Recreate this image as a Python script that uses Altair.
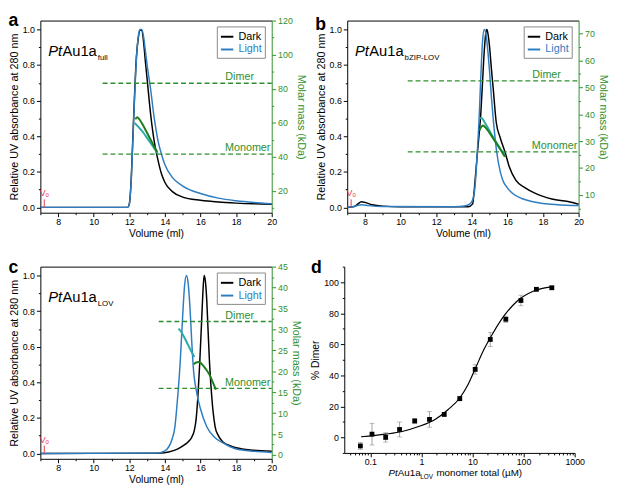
import altair as alt
import pandas as pd

FONT = "Liberation Sans"
BLUE = "#2f7dc1"
GREEN = "#2f8f2f"
DARKGREEN = "#1b7d1b"
TEAL = "#2aaaa8"
RED = "#e8384f"

# ---------------- data ----------------
A_DARK_VOL = [7.0, 11.9, 12.0, 12.1, 12.2, 12.3, 12.4, 12.5, 12.6, 12.7, 12.8, 12.9, 13.0, 13.2, 13.4, 13.6, 13.8, 14.0, 14.4, 15.0, 16.0, 17.0, 18.0, 19.0, 20.0]
A_DARK_ABS = [0.0, 0.0, 0.02, 0.15, 0.40, 0.65, 0.85, 0.95, 0.995, 0.995, 0.93, 0.82, 0.72, 0.52, 0.37, 0.27, 0.19, 0.14, 0.09, 0.058, 0.04, 0.03, 0.024, 0.02, 0.018]
A_LIGHT_VOL = [7.0, 11.9, 12.0, 12.1, 12.2, 12.3, 12.4, 12.5, 12.6, 12.7, 12.8, 12.9, 13.0, 13.2, 13.4, 13.6, 13.8, 14.0, 14.4, 15.0, 16.0, 17.0, 18.0, 19.0, 20.0]
A_LIGHT_ABS = [0.0, 0.0, 0.02, 0.14, 0.38, 0.63, 0.84, 0.96, 1.0, 1.0, 0.96, 0.88, 0.80, 0.66, 0.50, 0.38, 0.30, 0.24, 0.17, 0.12, 0.078, 0.052, 0.037, 0.027, 0.02]
A_MASS_DARK_VOL = [12.33, 12.44, 12.6, 12.8, 13.0, 13.2, 13.4, 13.57]
A_MASS_DARK = [62.0, 63.3, 61.5, 58.0, 54.0, 50.0, 46.0, 42.8]
A_MASS_LIGHT_VOL = [12.3, 12.4, 12.6, 12.8, 13.0, 13.2, 13.4, 13.6]
A_MASS_LIGHT = [60.0, 58.8, 56.5, 54.0, 51.0, 48.0, 45.0, 41.8]
A_DIMER, A_MONOMER = 83.2, 41.6

B_DARK_VOL = [7.0, 7.4, 7.6, 7.8, 8.0, 8.4, 9.0, 10.0, 13.8, 14.05, 14.1, 14.2, 14.3, 14.4, 14.5, 14.6, 14.7, 14.8, 14.85, 14.9, 15.0, 15.1, 15.2, 15.37, 15.6, 15.86, 16.1, 16.47, 17.0, 17.57, 18.0, 18.5, 19.4, 20.0]
B_DARK_ABS = [0.0, 0.005, 0.02, 0.032, 0.028, 0.015, 0.007, 0.004, 0.004, 0.02, 0.06, 0.17, 0.29, 0.40, 0.52, 0.70, 0.88, 0.99, 1.0, 0.98, 0.90, 0.78, 0.67, 0.48, 0.39, 0.313, 0.23, 0.153, 0.11, 0.079, 0.062, 0.047, 0.033, 0.018]
B_LIGHT_VOL = [7.0, 7.5, 7.8, 8.2, 9.0, 13.0, 13.6, 13.9, 14.1, 14.2, 14.3, 14.41, 14.5, 14.6, 14.7, 14.8, 14.9, 15.0, 15.1, 15.2, 15.4, 15.6, 15.74, 16.0, 16.28, 16.8, 17.38, 18.0, 18.8, 20.0]
B_LIGHT_ABS = [0.0, 0.008, 0.015, 0.01, 0.005, 0.004, 0.008, 0.02, 0.06, 0.14, 0.30, 0.50, 0.72, 0.93, 1.0, 0.97, 0.88, 0.76, 0.62, 0.50, 0.31, 0.20, 0.153, 0.11, 0.079, 0.05, 0.033, 0.022, 0.015, 0.01]
B_MASS_DARK_VOL = [14.42, 14.5, 14.63, 14.8, 15.0, 15.2, 15.4, 15.6, 15.86]
B_MASS_DARK = [33.9, 35.0, 35.8, 34.8, 33.0, 31.0, 29.0, 27.0, 24.2]
B_MASS_LIGHT_VOL = [14.45, 14.55, 14.7, 14.9, 15.1, 15.3, 15.5, 15.7, 15.86]
B_MASS_LIGHT = [38.5, 38.6, 37.2, 35.0, 32.6, 30.3, 28.2, 26.2, 24.5]
B_DIMER, B_MONOMER = 52.4, 26.0

C_DARK_VOL = [7.0, 13.8, 14.2, 14.7, 15.05, 15.3, 15.5, 15.65, 15.76, 15.85, 15.95, 16.05, 16.13, 16.2, 16.27, 16.35, 16.42, 16.5, 16.6, 16.7, 16.82, 17.0, 17.26, 17.7, 18.0, 19.0, 20.0]
C_DARK_ABS = [0.0, 0.002, 0.008, 0.024, 0.045, 0.065, 0.09, 0.13, 0.20, 0.32, 0.50, 0.72, 0.90, 1.0, 0.97, 0.86, 0.70, 0.52, 0.36, 0.24, 0.15, 0.10, 0.065, 0.042, 0.032, 0.018, 0.012]
C_LIGHT_VOL = [7.0, 13.5, 13.97, 14.2, 14.4, 14.56, 14.7, 14.85, 15.0, 15.1, 15.21, 15.3, 15.4, 15.5, 15.58, 15.8, 16.0, 16.35, 16.8, 17.26, 18.0, 19.0, 20.0]
C_LIGHT_ABS = [0.0, 0.002, 0.013, 0.035, 0.08, 0.15, 0.30, 0.50, 0.78, 0.94, 1.0, 0.96, 0.83, 0.64, 0.50, 0.334, 0.25, 0.15, 0.09, 0.059, 0.025, 0.012, 0.006]
C_MASS_DARK_VOL = [15.62, 15.75, 15.9, 16.1, 16.3, 16.5, 16.7, 16.86]
C_MASS_DARK = [21.7, 22.1, 22.2, 21.6, 20.5, 19.2, 17.3, 15.6]
C_MASS_LIGHT_VOL = [14.76, 14.9, 15.1, 15.3, 15.5, 15.65]
C_MASS_LIGHT = [30.2, 29.5, 28.0, 26.3, 24.6, 23.4]
C_DIMER, C_MONOMER = 31.9, 15.9

VO_VOL = 7.22

D_CONC = [0.064, 0.108, 0.2, 0.374, 0.74, 1.44, 2.8, 5.64, 11.3, 22.3, 44.9, 88.7, 178, 357]
D_DIMER = [-5.5, 2.1, 0.0, 5.1, 10.6, 11.6, 14.8, 25.0, 43.8, 63.1, 76.1, 88.2, 95.4, 96.4]
D_ERR = [2.2, 7.0, 3.0, 4.8, 1.5, 5.0, 1.0, 1.5, 3.0, 4.5, 2.0, 3.4, 1.0, 1.0]
D_FIT_CONC = [0.066, 0.2, 0.42, 0.88, 1.85, 3.35, 5.64, 8.15, 11.8, 17.1, 24.8, 41.7, 75.4, 158, 357]
D_FIT_Y = [0.4, 2.1, 3.8, 7.0, 11.6, 18.0, 25.4, 33.9, 45.6, 57.2, 66.8, 78.4, 87.9, 94.3, 97.0]

# ---------------- helpers ----------------
W, H = 236, 196
VOL_DOMAIN = [7, 20]
ABS_DOMAIN = [-0.03, 1.05]
VOL_TICKS = list(range(7, 21))
ABS_TICKS = [round(i * 0.1, 1) for i in range(11)]


def x_vol(field="vol", top=False):
    if top:
        axis = alt.Axis(orient="top", labels=False, ticks=False, title=None,
                        domainColor="black")
    else:
        axis = alt.Axis(title="Volume (ml)", values=VOL_TICKS, labelFlush=False,
                        labelOverlap=False,
                        labelExpr="datum.value % 2 == 0 ? datum.label : ''",
                        tickSize={"condition": {"test": "datum.value % 2 == 0", "value": 4}, "value": 2},
                        labelPadding=1, titlePadding=2, titleFontSize=10.5)
    return alt.X(f"{field}:Q", scale=alt.Scale(domain=VOL_DOMAIN, nice=False, zero=False), axis=axis)


def y_abs(field):
    return alt.Y(f"{field}:Q", scale=alt.Scale(domain=ABS_DOMAIN, nice=False, zero=False),
                 axis=alt.Axis(title="Relative UV absorbance at 280 nm", values=ABS_TICKS,
                               format=".1f", labelOverlap=False, labelFlush=False,
                               labelExpr="round(datum.value * 10) % 2 == 0 ? datum.label : ''",
                               tickSize={"condition": {"test": "round(datum.value * 10) % 2 == 0", "value": 4}, "value": 2},
                               labelPadding=2, titlePadding=3))


def y_mass(field, domain, ticks, major):
    return alt.Y(f"{field}:Q", scale=alt.Scale(domain=domain, nice=False, zero=False),
                 axis=alt.Axis(title="Molar mass (kDa)", orient="right", values=ticks,
                               labelOverlap=False, labelFlush=False,
                               labelExpr=f"datum.value % {major} == 0 ? datum.label : ''",
                               tickSize={"condition": {"test": f"datum.value % {major} == 0", "value": 4}, "value": 2},
                               domainColor=GREEN, tickColor=GREEN, labelColor=GREEN,
                               titleColor=GREEN, labelPadding=2, titlePadding=3))


def name_marks(sub, xs, y):
    one = pd.DataFrame({"k": [0]})
    base = alt.Chart(one)
    return [
        base.mark_text(text="Pt", fontStyle="italic", fontSize=15, align="left",
                       baseline="alphabetic").encode(x=alt.value(xs[0]), y=alt.value(y)),
        base.mark_text(text="Au1a", fontSize=15, align="left",
                       baseline="alphabetic").encode(x=alt.value(xs[1]), y=alt.value(y)),
        base.mark_text(text=sub, fontSize=8, align="left",
                       baseline="alphabetic").encode(x=alt.value(xs[2]), y=alt.value(y + 4)),
    ]


def letter(t):
    return alt.TitleParams(t, anchor="start", frame="bounds", fontSize=18, fontWeight="bold",
                           offset=-14, color="black")


def sec_panel(let, sub, dv, da, lv, la, mdv, md, mlv, ml, dimer, monomer, dash_start,
              mass_domain, mass_ticks, major):
    abs_df = pd.concat([
        pd.DataFrame({"vol": dv, "abs": da, "series": "Dark"}),
        pd.DataFrame({"vol": lv, "abs": la, "series": "Light"}),
    ])
    color = alt.Color("series:N", scale=alt.Scale(domain=["Dark", "Light"], range=["black", BLUE]),
                      legend=alt.Legend(title=None, orient="none", legendX=180, legendY=6,
                                        direction="vertical", symbolType="stroke", symbolSize=160,
                                        symbolStrokeWidth=2, labelFontSize=11, padding=3,
                                        strokeColor="#888", fillColor="white", rowPadding=0,
                                        labelOffset=4, cornerRadius=0,
                                        labelColor={"expr": f"datum.label === 'Light' ? '{BLUE}' : 'black'"}))
    lines = alt.Chart(abs_df).mark_line(strokeWidth=1.5, interpolate="monotone").encode(
        x=x_vol(), y=y_abs("abs"), color=color)
    vo_df = pd.DataFrame({"vol": [VO_VOL], "y0": [0.0], "y1": [0.045]})
    vo_rule = alt.Chart(vo_df).mark_rule(color=RED, strokeWidth=1).encode(
        x=x_vol(), y=y_abs("y0"), y2=alt.Y2("y1:Q"))
    vo_text = alt.Chart(vo_df).mark_text(text="Vₒ", color=RED, fontSize=9, baseline="bottom",
                                         dy=-1, align="center").encode(x=x_vol(), y=y_abs("y1"))
    left = alt.layer(lines, vo_rule, vo_text, *name_marks(sub, [8, 22.5, 58.5], 36))

    mdf = pd.DataFrame({"vol": mdv, "mass": md})
    mlf = pd.DataFrame({"vol": mlv, "mass": ml})
    mass_d = alt.Chart(mdf).mark_line(color=DARKGREEN, strokeWidth=2, interpolate="monotone").encode(
        x=x_vol(top=True), y=y_mass("mass", mass_domain, mass_ticks, major))
    mass_l = alt.Chart(mlf).mark_line(color=TEAL, strokeWidth=2, interpolate="monotone").encode(
        x=x_vol(top=True), y=y_mass("mass", mass_domain, mass_ticks, major))
    ref_df = pd.DataFrame({"x0": [dash_start, dash_start], "x1": [20, 20],
                           "mass": [dimer, monomer], "label": ["Dimer", "Monomer"],
                           "lx": [18.2, 18.65]})
    dashes = alt.Chart(ref_df).mark_rule(color=GREEN, strokeDash=[5, 3], strokeWidth=1.3).encode(
        x=x_vol("x0", top=True), x2=alt.X2("x1:Q"), y=y_mass("mass", mass_domain, mass_ticks, major))
    labels = alt.Chart(ref_df).mark_text(color=GREEN, fontSize=11, baseline="bottom", dy=-1).encode(
        x=x_vol("lx", top=True), y=y_mass("mass", mass_domain, mass_ticks, major), text="label:N")
    right = alt.layer(dashes, labels, mass_l, mass_d)

    return alt.layer(left, right).resolve_scale(y="independent").resolve_axis(x="independent").properties(
        width=W, height=H, title=letter(let))


pa = sec_panel("a", "full", A_DARK_VOL, A_DARK_ABS, A_LIGHT_VOL, A_LIGHT_ABS,
               A_MASS_DARK_VOL, A_MASS_DARK, A_MASS_LIGHT_VOL, A_MASS_LIGHT,
               A_DIMER, A_MONOMER, 10.5, [7.2, 120], list(range(10, 121, 10)), 20)
pb = sec_panel("b", "bZIP-LOV", B_DARK_VOL, B_DARK_ABS, B_LIGHT_VOL, B_LIGHT_ABS,
               B_MASS_DARK_VOL, B_MASS_DARK, B_MASS_LIGHT_VOL, B_MASS_LIGHT,
               B_DIMER, B_MONOMER, 10.4, [3.4, 74.8], list(range(5, 71, 5)), 10)
pc = sec_panel("c", "LOV", C_DARK_VOL, C_DARK_ABS, C_LIGHT_VOL, C_LIGHT_ABS,
               C_MASS_DARK_VOL, C_MASS_DARK, C_MASS_LIGHT_VOL, C_MASS_LIGHT,
               C_DIMER, C_MONOMER, 13.65, [-0.9, 45], [round(i * 2.5, 1) for i in range(19)], 5)

# ---------------- panel d ----------------
WD, HD = 235, 190
LOG_TICKS = [round(k * 10 ** e, 6) for e in range(-2, 3) for k in range(1, 10) if 0.031 <= k * 10 ** e <= 1000] + [1000]
D_MAJOR = [0.1, 1, 10, 100, 1000]
d_df = pd.DataFrame({"conc": D_CONC, "dimer": D_DIMER,
                     "lo": [v - e for v, e in zip(D_DIMER, D_ERR)],
                     "hi": [v + e for v, e in zip(D_DIMER, D_ERR)]})
fit_df = pd.DataFrame({"conc": D_FIT_CONC, "dimer": D_FIT_Y})


def x_conc():
    return alt.X("conc:Q", scale=alt.Scale(type="log", domain=[0.031, 1000], nice=False),
                 axis=alt.Axis(title=None, values=LOG_TICKS, format="~g", labelFlush=False,
                               labelOverlap=False,
                               labelExpr=f"indexof({D_MAJOR}, datum.value) >= 0 ? datum.label : ''",
                               tickSize={"condition": {"test": f"indexof({D_MAJOR}, datum.value) >= 0", "value": 4}, "value": 2},
                               labelPadding=1))


def y_dimer(field):
    return alt.Y(f"{field}:Q", scale=alt.Scale(domain=[-10, 110], nice=False, zero=False),
                 axis=alt.Axis(title="% Dimer", values=list(range(-10, 111, 10)), labelFlush=False,
                               labelOverlap=False,
                               labelExpr="datum.value % 20 == 0 && datum.value >= 0 && datum.value <= 100 ? datum.label : ''",
                               tickSize={"condition": {"test": "datum.value % 20 == 0", "value": 4}, "value": 2},
                               labelPadding=2, titlePadding=3, titleFontSize=10.5))


err_rule = alt.Chart(d_df).mark_rule(color="#888", strokeWidth=0.8).encode(
    x=x_conc(), y=y_dimer("lo"), y2=alt.Y2("hi:Q"))
err_lo = alt.Chart(d_df).mark_tick(color="#888", orient="horizontal", size=5, thickness=0.8).encode(
    x=x_conc(), y=y_dimer("lo"))
err_hi = alt.Chart(d_df).mark_tick(color="#888", orient="horizontal", size=5, thickness=0.8).encode(
    x=x_conc(), y=y_dimer("hi"))
fit = alt.Chart(fit_df).mark_line(color="black", strokeWidth=1.2, interpolate="monotone").encode(
    x=x_conc(), y=y_dimer("dimer"))
pts = alt.Chart(d_df).mark_square(color="black", size=24, opacity=1).encode(
    x=x_conc(), y=y_dimer("dimer"))

one = pd.DataFrame({"k": [0]})
ty = HD + 24
d_title = [
    alt.Chart(one).mark_text(text="Pt", fontStyle="italic", fontSize=10, align="left", baseline="alphabetic").encode(x=alt.value(45), y=alt.value(ty)),
    alt.Chart(one).mark_text(text="Au1a", fontSize=10, align="left", baseline="alphabetic").encode(x=alt.value(54.5), y=alt.value(ty)),
    alt.Chart(one).mark_text(text="LOV", fontSize=6.5, align="left", baseline="alphabetic").encode(x=alt.value(77.5), y=alt.value(ty + 3)),
    alt.Chart(one).mark_text(text="monomer total (µM)", fontSize=10, align="left", baseline="alphabetic").encode(x=alt.value(94), y=alt.value(ty)),
]

pd_ = alt.layer(err_rule, err_lo, err_hi, fit, pts, *d_title).properties(
    width=WD, height=HD, title=letter("d"))

row1 = alt.hconcat(pa, pb, spacing=8).resolve_scale(color="independent")
row2 = alt.hconcat(pc, pd_, spacing=8).resolve_scale(color="independent")

chart = alt.vconcat(row1, row2, spacing=20).resolve_scale(color="independent").properties(
    padding={"left": 0, "top": 0, "right": 0, "bottom": 0}
).configure(font=FONT).configure_axis(
    grid=False, labelFontSize=9, titleFontSize=11, titleFontWeight="normal",
    domainColor="black", tickColor="black", labelColor="black", titleColor="black",
).configure_view(stroke=None).configure_legend(labelFont=FONT)

chart.save("out.html", embed_options={"renderer": "svg", "actions": False})
